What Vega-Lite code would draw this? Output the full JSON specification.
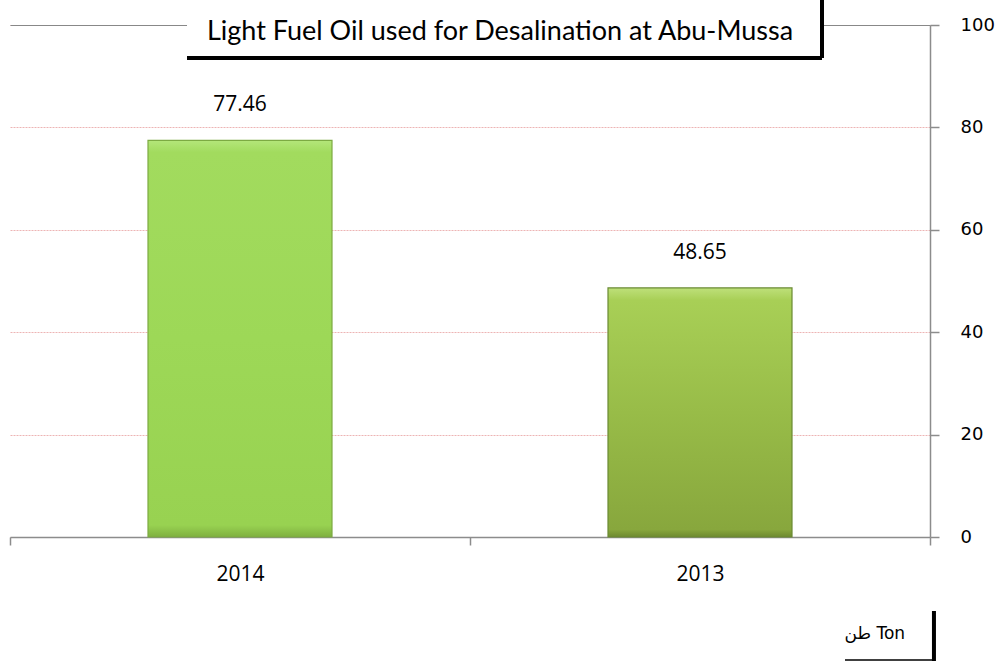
{
  "$schema": "https://vega.github.io/schema/vega-lite/v6.json",
  "width": 920,
  "height": 512,
  "autosize": {"type": "none"},
  "padding": {"left": 10, "top": 25, "right": 74, "bottom": 124},
  "background": "white",
  "config": {"view": {"stroke": null}},
  "datasets": {
    "bars": [
      {"year": "2014", "ton": 77.46},
      {"year": "2013", "ton": 48.65}
    ],
    "boxes": [
      {"name": "title", "x0": 0.1924, "x1": 0.8826, "y0": 93.55, "y1": 106}
    ],
    "lines": [
      {"name": "titleRight", "x0": 0.8826, "x1": 0.8826, "y0": 93.55, "y1": 106},
      {"name": "titleBottom", "x0": 0.1924, "x1": 0.8826, "y0": 93.55, "y1": 93.55}
    ],
    "tonLines": [
      {"name": "tonRight", "x0": 1.0043, "x1": 1.0043, "y0": -14.45, "y1": -24.3},
      {"name": "tonBottom", "x0": 0.9076, "x1": 1.0043, "y0": -24.0, "y1": -24.0}
    ],
    "titleText": [
      {"text": "Light Fuel Oil used for Desalination at Abu-Mussa", "x": 0.5326, "y": 98.6}
    ],
    "unitText": [
      {"text": "طن Ton", "x": 0.940, "y": -18.9}
    ]
  },
  "resolve": {"scale": {"x": "independent"}, "axis": {"x": "independent"}},
  "layer": [
    {
      "data": {"name": "bars"},
      "mark": {"type": "bar", "strokeWidth": 1.2, "width": {"band": 0.4}},
      "encoding": {
        "x": {
          "field": "year", "type": "nominal", "sort": ["2014", "2013"],
          "scale": {"paddingInner": 0, "paddingOuter": 0},
          "axis": {
            "title": null, "labelAngle": 0, "tickBand": "extent", "grid": false,
            "domainColor": "#8c8c8c", "domainWidth": 1.5, "tickColor": "#8c8c8c", "tickWidth": 1.5, "tickSize": 8,
            "labelFont": "Open Sans", "labelFontSize": 21, "labelColor": "#000000", "labelPadding": 18
          }
        },
        "y": {
          "field": "ton", "type": "quantitative",
          "scale": {"domain": [0, 100], "nice": false},
          "axis": {
            "orient": "right", "title": null, "values": [0, 20, 40, 60, 80, 100],
            "domainColor": "#8c8c8c", "domainWidth": 1.5, "tickColor": "#8c8c8c", "tickWidth": 1.5, "tickSize": 9,
            "labelFont": "DejaVu Sans", "labelFontSize": 18, "labelColor": "#000000", "labelPadding": 21,
            "grid": true, "gridColor": "#EDB4B4", "gridWidth": 1, "gridDash": [2, 1]
          }
        },
        "color": {
          "condition": {
            "test": "datum.year === '2014'",
            "value": {"gradient": "linear", "x1": 0, "y1": 0, "x2": 0, "y2": 1,
              "stops": [{"offset": 0, "color": "#B4E67A"}, {"offset": 0.03, "color": "#A2DB5E"}, {"offset": 0.5, "color": "#9DD857"}, {"offset": 0.97, "color": "#98D251"}, {"offset": 1, "color": "#7FB040"}]}
          },
          "value": {"gradient": "linear", "x1": 0, "y1": 0, "x2": 0, "y2": 1,
            "stops": [{"offset": 0, "color": "#BEE07A"}, {"offset": 0.05, "color": "#A8CF56"}, {"offset": 0.5, "color": "#98BC48"}, {"offset": 0.97, "color": "#88A73D"}, {"offset": 1, "color": "#6E8A30"}]}
        },
        "stroke": {
          "condition": {"test": "datum.year === '2014'", "value": "#7CAA42"},
          "value": "#6A8A32"
        }
      }
    },
    {
      "data": {"name": "bars"},
      "mark": {"type": "text", "baseline": "middle", "dy": -35, "font": "Open Sans", "fontSize": 21, "color": "#000000"},
      "encoding": {
        "x": {"field": "year", "type": "nominal", "sort": ["2014", "2013"]},
        "y": {"field": "ton", "type": "quantitative", "scale": {"domain": [0, 100], "nice": false}},
        "text": {"field": "ton", "type": "quantitative", "format": ".2f"}
      }
    },
    {
      "resolve": {"scale": {"x": "shared"}},
      "layer": [
        {
          "data": {"name": "boxes"},
          "mark": {"type": "rect", "fill": "white", "stroke": null},
          "encoding": {
            "x": {"field": "x0", "type": "quantitative", "scale": {"domain": [0, 1], "nice": false, "zero": false}, "axis": null},
            "x2": {"field": "x1"},
            "y": {"field": "y0", "type": "quantitative", "scale": {"domain": [0, 100], "nice": false}},
            "y2": {"field": "y1"}
          }
        },
        {
          "data": {"name": "lines"},
          "mark": {"type": "rule", "color": "#000000", "strokeWidth": 4},
          "encoding": {
            "x": {"field": "x0", "type": "quantitative", "scale": {"domain": [0, 1], "nice": false, "zero": false}, "axis": null},
            "x2": {"field": "x1"},
            "y": {"field": "y0", "type": "quantitative", "scale": {"domain": [0, 100], "nice": false}},
            "y2": {"field": "y1"}
          }
        },
        {
          "data": {"name": "tonLines"},
          "mark": {"type": "rule", "color": "#000000"},
          "encoding": {
            "x": {"field": "x0", "type": "quantitative", "scale": {"domain": [0, 1], "nice": false, "zero": false}, "axis": null},
            "x2": {"field": "x1"},
            "y": {"field": "y0", "type": "quantitative", "scale": {"domain": [0, 100], "nice": false}},
            "y2": {"field": "y1"},
            "strokeWidth": {
              "condition": {"test": "datum.name === 'tonRight'", "value": 4},
              "value": 1.5
            }
          }
        },
        {
          "data": {"name": "titleText"},
          "mark": {"type": "text", "baseline": "middle", "align": "center", "color": "#000000", "font": "Lato", "fontSize": 27},
          "encoding": {
            "x": {"field": "x", "type": "quantitative", "scale": {"domain": [0, 1], "nice": false, "zero": false}, "axis": null},
            "y": {"field": "y", "type": "quantitative", "scale": {"domain": [0, 100], "nice": false}},
            "text": {"field": "text"}
          }
        },
        {
          "data": {"name": "unitText"},
          "mark": {"type": "text", "baseline": "middle", "align": "center", "color": "#000000", "font": "DejaVu Sans", "fontSize": 17},
          "encoding": {
            "x": {"field": "x", "type": "quantitative", "scale": {"domain": [0, 1], "nice": false, "zero": false}, "axis": null},
            "y": {"field": "y", "type": "quantitative", "scale": {"domain": [0, 100], "nice": false}},
            "text": {"field": "text"}
          }
        }
      ]
    }
  ]
}
